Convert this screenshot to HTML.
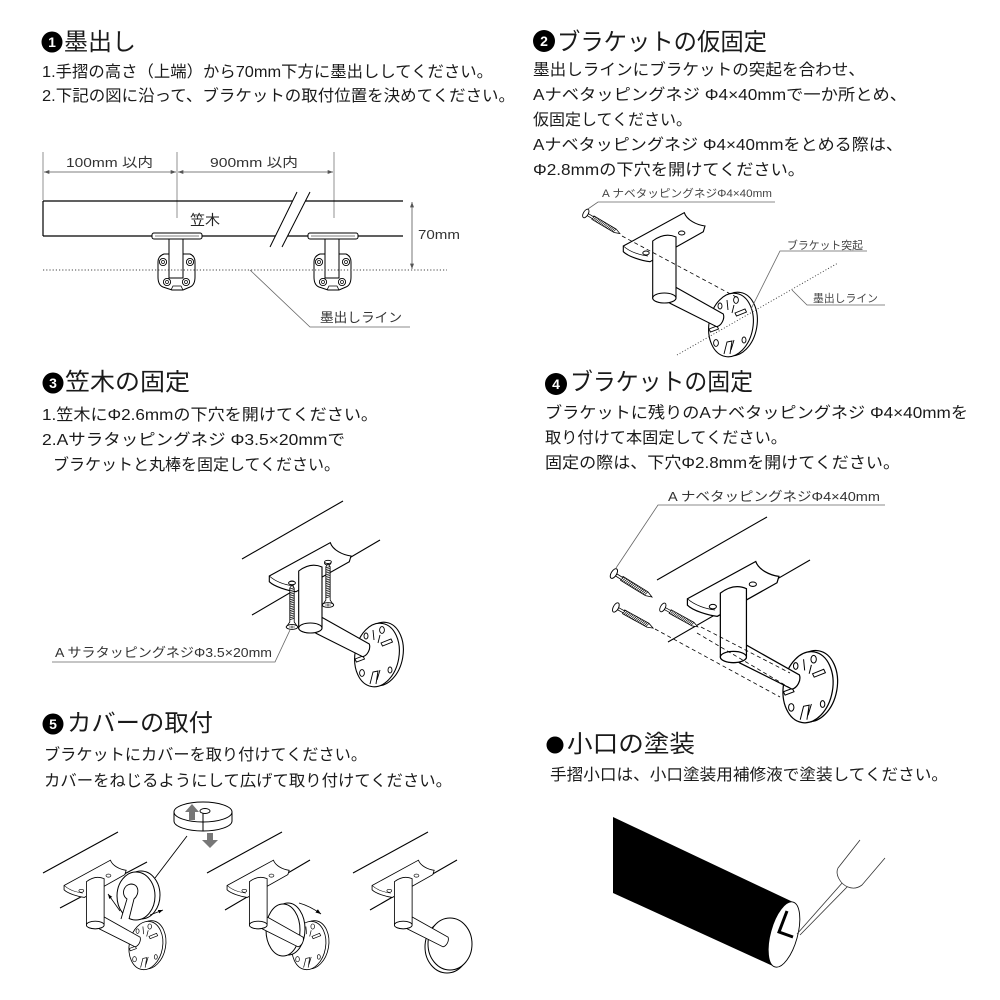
<!DOCTYPE html>
<html><head><meta charset="utf-8"><style>
html,body{margin:0;padding:0;background:#fff;}
svg{display:block;}
text{font-family:"Liberation Sans","Noto Sans CJK JP",sans-serif;fill:#1a1a1a;}
.h{font-size:24px}
.b{font-size:16px}
.s{font-size:13px;fill:#333}
.xs{font-size:11px;fill:#444}
.n{font-size:14px;font-weight:bold;fill:#fff}
</style></head><body>
<svg width="1000" height="1000" viewBox="0 0 1000 1000" xmlns="http://www.w3.org/2000/svg">
<defs>
<marker id="ar" viewBox="0 0 8 6" refX="8" refY="3" markerWidth="7" markerHeight="5" orient="auto-start-reverse"><path d="M0,0 L8,3 L0,6 Z" fill="#555"/></marker>
<marker id="ak" viewBox="0 0 8 6" refX="8" refY="3" markerWidth="6" markerHeight="5" orient="auto"><path d="M0,0 L8,3 L0,6 Z" fill="#000"/></marker>

<g id="fb">
 <path d="M12,254 L38,254 Q43,256 43,262 L43,277 Q43,285 38,287 L31,290 L20,290 L11,287 Q6,285 6,277 L6,262 Q6,256 12,254 Z" fill="#fff" stroke="#000" stroke-width="1"/>
 <circle cx="11" cy="262" r="3.6" fill="#fff" stroke="#000" stroke-width="0.9"/><circle cx="11" cy="262" r="1.5" fill="none" stroke="#000" stroke-width="0.7"/>
 <circle cx="38" cy="262" r="3.6" fill="#fff" stroke="#000" stroke-width="0.9"/><circle cx="38" cy="262" r="1.5" fill="none" stroke="#000" stroke-width="0.7"/>
 <circle cx="15" cy="282" r="3.6" fill="#fff" stroke="#000" stroke-width="0.9"/><circle cx="15" cy="282" r="1.5" fill="none" stroke="#000" stroke-width="0.7"/>
 <circle cx="34" cy="282" r="3.6" fill="#fff" stroke="#000" stroke-width="0.9"/><circle cx="34" cy="282" r="1.5" fill="none" stroke="#000" stroke-width="0.7"/>
 <path d="M19,290 L21,286 L29,286 L31,290" fill="none" stroke="#000" stroke-width="0.8"/>
 <rect x="17" y="238" width="14" height="40" fill="#fff" stroke="#000" stroke-width="1"/>
 <rect x="0" y="233" width="50" height="6" rx="2" fill="#fff" stroke="#000" stroke-width="1"/>
 <line x1="3" y1="236" x2="47" y2="236" stroke="#000" stroke-width="0.5"/>
</g>

<g id="base">
 <ellipse cx="71" cy="26" rx="22" ry="32" transform="rotate(10 71 26)" fill="#fff" stroke="#000" stroke-width="1.1"/>
 <ellipse cx="67" cy="27" rx="22" ry="32" transform="rotate(10 67 27)" fill="#fff" stroke="#000" stroke-width="1.1"/>
 <ellipse cx="72" cy="2" rx="2.4" ry="3.4" fill="none" stroke="#000" stroke-width="0.9"/>
 <ellipse cx="52" cy="45" rx="2.4" ry="3.4" fill="none" stroke="#000" stroke-width="0.9"/>
 <ellipse cx="80" cy="42" rx="2" ry="3" fill="none" stroke="#000" stroke-width="0.9"/>
 <ellipse cx="56" cy="8" rx="2" ry="3" fill="none" stroke="#000" stroke-width="0.9"/>
 <path d="M71,15 l10,-4 l1.5,3 l-10,4 z" fill="#fff" stroke="#000" stroke-width="0.9"/>
 <path d="M45,31 l8,-3 l1.5,3 l-8,3 z" fill="#fff" stroke="#000" stroke-width="0.9"/>
 <path d="M60,56 l3,-12 l5,-1 l-2,13 M67,52 l3,-10" fill="none" stroke="#000" stroke-width="0.9"/>
 <path d="M63,2 l1,10 M70,7 l-2,8" fill="none" stroke="#000" stroke-width="0.9"/>
</g>

<g id="upper">
 <path d="M-40.7,-52 L20.3,-85.3 C22.7,-78 32.7,-73 41,-72 L39.3,-66.3 L-14,-36.3 C-22.3,-37.3 -35.7,-41.3 -40.7,-46.3 Z" fill="#fff" stroke="#000" stroke-width="1.1"/>
 <path d="M-40.7,-52 C-34,-46 -24,-43 -16,-42" fill="none" stroke="#000" stroke-width="0.7"/>
 <ellipse cx="-18" cy="-45" rx="3.2" ry="2" fill="none" stroke="#000" stroke-width="0.9"/>
 <ellipse cx="17.7" cy="-65" rx="3.2" ry="2" fill="none" stroke="#000" stroke-width="0.9"/>
 <path d="M6,-14 L59.3,16 A6 8.5 25 0 1 52.7,28.7 L6,5.3 L0,0 Z" fill="#fff" stroke="#000" stroke-width="1.1"/>
 <path d="M-11.3,-57 L-11.3,0 A11.65,5 0 0 0 12,0 L12,-61 Q0.5,-66 -11.3,-57 Z" fill="#fff" stroke="#000" stroke-width="1.1"/>
 <ellipse cx="0.35" cy="0" rx="11.65" ry="5" fill="#fff" stroke="#000" stroke-width="1.1"/>
</g>

<g id="scr">
 <path d="M2,-1.2 L10,-1.2 L10,-2.2 L38,-2.2 L44,0 L38,2.2 L10,2.2 L10,1.2 L2,1.2 Z" fill="#fff" stroke="#000" stroke-width="0.8"/>
 <path d="M11,-2.2 l-1.2,4.4 M12.8,-2.2 l-1.2,4.4 M14.6,-2.2 l-1.2,4.4 M16.4,-2.2 l-1.2,4.4 M18.2,-2.2 l-1.2,4.4 M20,-2.2 l-1.2,4.4 M21.8,-2.2 l-1.2,4.4 M23.6,-2.2 l-1.2,4.4 M25.4,-2.2 l-1.2,4.4 M27.2,-2.2 l-1.2,4.4 M29,-2.2 l-1.2,4.4 M30.8,-2.2 l-1.2,4.4 M32.6,-2.2 l-1.2,4.4 M34.4,-2.2 l-1.2,4.4 M36.2,-2.2 l-1.2,4.4 M38,-2.2 l-1.2,4.4" stroke="#000" stroke-width="0.7"/>
 <ellipse cx="1" cy="0" rx="2.6" ry="5.2" fill="#fff" stroke="#000" stroke-width="0.9"/>
 <path d="M2.5,-4 A2 4.5 0 0 1 2.5,4" fill="none" stroke="#000" stroke-width="0.6"/>
</g>

<g id="vscr">
 <ellipse cx="0" cy="-44" rx="3.5" ry="1.6" fill="#fff" stroke="#000" stroke-width="0.8"/>
 <path d="M-2.2,-39 L0,-42 L2.2,-39 L2.2,-5 L5,-1 L-5,-1 L-2.2,-5 Z" fill="#fff" stroke="#000" stroke-width="0.8"/>
 <path d="M-2.2,-38 l4.4,-1.2 M-2.2,-36.2 l4.4,-1.2 M-2.2,-34.4 l4.4,-1.2 M-2.2,-32.6 l4.4,-1.2 M-2.2,-30.8 l4.4,-1.2 M-2.2,-29 l4.4,-1.2 M-2.2,-27.2 l4.4,-1.2 M-2.2,-25.4 l4.4,-1.2 M-2.2,-23.6 l4.4,-1.2 M-2.2,-21.8 l4.4,-1.2 M-2.2,-20 l4.4,-1.2 M-2.2,-18.2 l4.4,-1.2 M-2.2,-16.4 l4.4,-1.2 M-2.2,-14.6 l4.4,-1.2 M-2.2,-12.8 l4.4,-1.2 M-2.2,-11 l4.4,-1.2 M-2.2,-9.2 l4.4,-1.2 M-2.2,-7.4 l4.4,-1.2" stroke="#000" stroke-width="0.7"/>
 <ellipse cx="0" cy="0" rx="5.8" ry="2.4" fill="#fff" stroke="#000" stroke-width="0.9"/>
 <path d="M-3,0 L3,0 M0,-1.5 L0,1.5" stroke="#000" stroke-width="0.6"/>
</g>
</defs>

<!-- ================= SECTION 1 ================= -->
<circle cx="52" cy="42" r="10.5" fill="#000"/><text class="n" x="52" y="47" text-anchor="middle">1</text>
<text class="h" x="64" y="50" textLength="72" lengthAdjust="spacingAndGlyphs">墨出し</text>
<text class="b" x="42" y="77" textLength="451" lengthAdjust="spacingAndGlyphs">1.手摺の高さ（上端）から70mm下方に墨出ししてください。</text>
<text class="b" x="42" y="101" textLength="473" lengthAdjust="spacingAndGlyphs">2.下記の図に沿って、ブラケットの取付位置を決めてください。</text>

<g stroke="#777" stroke-width="0.8" fill="none">
 <line x1="43" y1="152" x2="43" y2="200"/>
 <line x1="177" y1="152" x2="177" y2="218"/>
 <line x1="334" y1="152" x2="334" y2="218"/>
</g>
<line x1="44" y1="172" x2="176" y2="172" stroke="#555" stroke-width="0.8" marker-start="url(#ar)" marker-end="url(#ar)"/>
<line x1="178" y1="172" x2="333" y2="172" stroke="#555" stroke-width="0.8" marker-start="url(#ar)" marker-end="url(#ar)"/>
<text class="s" x="66" y="167" textLength="87" lengthAdjust="spacingAndGlyphs">100mm 以内</text>
<text class="s" x="210" y="167" textLength="88" lengthAdjust="spacingAndGlyphs">900mm 以内</text>

<g stroke="#000" stroke-width="1.2" fill="none">
 <line x1="43" y1="201" x2="403" y2="201"/>
 <line x1="43" y1="236" x2="403" y2="236"/>
 <line x1="43" y1="201" x2="43" y2="236"/>
</g>
<polygon points="297,192 310,192 282,247 270,247" fill="#fff"/>
<line x1="297" y1="192" x2="270" y2="247" stroke="#000" stroke-width="1"/>
<line x1="310" y1="192" x2="282" y2="247" stroke="#000" stroke-width="1"/>
<text class="s" x="190" y="225" textLength="30" lengthAdjust="spacingAndGlyphs" style="font-size:14px;fill:#222">笠木</text>

<use href="#fb" x="152"/>
<use href="#fb" x="308"/>

<line x1="43" y1="270" x2="447" y2="270" stroke="#444" stroke-width="1" stroke-dasharray="1.2,2"/>
<line x1="412" y1="202" x2="412" y2="269" stroke="#555" stroke-width="0.8" marker-start="url(#ar)" marker-end="url(#ar)"/>
<text class="s" x="418" y="239" textLength="42" lengthAdjust="spacingAndGlyphs">70mm</text>
<polyline points="250,270 310,327 410,327" fill="none" stroke="#666" stroke-width="0.8"/>
<text class="s" x="320" y="322" textLength="82" lengthAdjust="spacingAndGlyphs">墨出しライン</text>

<!-- ================= SECTION 2 ================= -->
<circle cx="544" cy="41" r="11" fill="#000"/><text class="n" x="544" y="46" text-anchor="middle">2</text>
<text class="h" x="557" y="50" textLength="210" lengthAdjust="spacingAndGlyphs">ブラケットの仮固定</text>
<text class="b" x="533" y="75" textLength="332" lengthAdjust="spacingAndGlyphs">墨出しラインにブラケットの突起を合わせ、</text>
<text class="b" x="533" y="100" textLength="374" lengthAdjust="spacingAndGlyphs">Aナベタッピングネジ Φ4×40mmで一か所とめ、</text>
<text class="b" x="533" y="125" textLength="159" lengthAdjust="spacingAndGlyphs">仮固定してください。</text>
<text class="b" x="533" y="150" textLength="370" lengthAdjust="spacingAndGlyphs">Aナベタッピングネジ Φ4×40mmをとめる際は、</text>
<text class="b" x="533" y="175" textLength="272" lengthAdjust="spacingAndGlyphs">Φ2.8mmの下穴を開けてください。</text>

<text class="xs" x="602" y="197" textLength="170" lengthAdjust="spacingAndGlyphs">A ナベタッピングネジΦ4×40mm</text>
<polyline points="775,202 598,202 585,211" fill="none" stroke="#666" stroke-width="0.8"/>

<g transform="translate(664,298)"><use href="#base"/><use href="#upper"/></g>
<use href="#scr" transform="translate(585,213) rotate(30.5) scale(0.92)"/>
<line x1="622" y1="236" x2="738" y2="298" stroke="#000" stroke-width="0.8" stroke-dasharray="4,3"/>
<line x1="677" y1="355" x2="838" y2="263" stroke="#333" stroke-width="0.9" stroke-dasharray="1,2"/>

<text class="xs" x="787" y="249" textLength="76" lengthAdjust="spacingAndGlyphs">ブラケット突起</text>
<polyline points="867,251 780,251 751,309" fill="none" stroke="#666" stroke-width="0.8"/>
<text class="xs" x="813" y="302" textLength="65" lengthAdjust="spacingAndGlyphs">墨出しライン</text>
<polyline points="885,305 807,305 792,290" fill="none" stroke="#666" stroke-width="0.8"/>

<!-- ================= SECTION 3 ================= -->
<circle cx="53" cy="383" r="10.5" fill="#000"/><text class="n" x="53" y="388" text-anchor="middle">3</text>
<text class="h" x="65" y="390" textLength="125" lengthAdjust="spacingAndGlyphs">笠木の固定</text>
<text class="b" x="42" y="420" textLength="336" lengthAdjust="spacingAndGlyphs">1.笠木にΦ2.6mmの下穴を開けてください。</text>
<text class="b" x="42" y="445" textLength="303" lengthAdjust="spacingAndGlyphs">2.Aサラタッピングネジ Φ3.5×20mmで</text>
<text class="b" x="53" y="470" textLength="287" lengthAdjust="spacingAndGlyphs">ブラケットと丸棒を固定してください。</text>

<line x1="242" y1="559" x2="343" y2="501" stroke="#000" stroke-width="1.1"/>
<line x1="252" y1="615" x2="380" y2="540" stroke="#000" stroke-width="1.1"/>
<g transform="translate(310,628)"><use href="#base"/><use href="#upper"/></g>
<use href="#vscr" transform="translate(292,627)"/>
<use href="#vscr" transform="translate(328,605) scale(0.98)"/>
<text class="s" x="55" y="657" textLength="217" lengthAdjust="spacingAndGlyphs">A サラタッピングネジΦ3.5×20mm</text>
<polyline points="52,662 275,662 290,630" fill="none" stroke="#666" stroke-width="0.8"/>

<!-- ================= SECTION 4 ================= -->
<circle cx="556" cy="384" r="11" fill="#000"/><text class="n" x="556" y="389" text-anchor="middle">4</text>
<text class="h" x="570" y="390" textLength="183" lengthAdjust="spacingAndGlyphs">ブラケットの固定</text>
<text class="b" x="545" y="418" textLength="423" lengthAdjust="spacingAndGlyphs">ブラケットに残りのAナベタッピングネジ Φ4×40mmを</text>
<text class="b" x="545" y="443" textLength="242" lengthAdjust="spacingAndGlyphs">取り付けて本固定してください。</text>
<text class="b" x="545" y="468" textLength="355" lengthAdjust="spacingAndGlyphs">固定の際は、下穴Φ2.8mmを開けてください。</text>

<text class="s" x="668" y="501" textLength="212" lengthAdjust="spacingAndGlyphs">A ナベタッピングネジΦ4×40mm</text>
<polyline points="885,505 658,505 616,568" fill="none" stroke="#666" stroke-width="0.8"/>

<line x1="657" y1="580" x2="767" y2="517" stroke="#000" stroke-width="1.1"/>
<line x1="668" y1="642" x2="810" y2="560" stroke="#000" stroke-width="1.1"/>
<g transform="translate(733,657) scale(1.12)"><use href="#base"/><use href="#upper"/></g>
<use href="#scr" transform="translate(613,573) rotate(31.6) scale(1.04)"/>
<use href="#scr" transform="translate(615,607) rotate(29) scale(0.99)"/>
<use href="#scr" transform="translate(662,607) rotate(29) scale(0.93)"/>
<g stroke="#000" stroke-width="0.8" stroke-dasharray="4,3" fill="none">
 <line x1="655" y1="629" x2="780" y2="697"/>
 <line x1="701" y1="627" x2="790" y2="673"/>
 <line x1="697" y1="633" x2="790" y2="688"/>
</g>

<!-- ================= SECTION 5 ================= -->
<circle cx="53" cy="724" r="10.5" fill="#000"/><text class="n" x="53" y="729" text-anchor="middle">5</text>
<text class="h" x="67" y="731" textLength="146" lengthAdjust="spacingAndGlyphs">カバーの取付</text>
<text class="b" x="44" y="760" textLength="323" lengthAdjust="spacingAndGlyphs">ブラケットにカバーを取り付けてください。</text>
<text class="b" x="44" y="786" textLength="408" lengthAdjust="spacingAndGlyphs">カバーをねじるようにして広げて取り付けてください。</text>

<!-- cover icon -->
<path d="M174,812 L174,821 A29 10 0 0 0 232,821 L232,812" fill="#fff" stroke="#000" stroke-width="1"/>
<ellipse cx="203" cy="812" rx="29" ry="10" fill="#fff" stroke="#000" stroke-width="1"/>
<ellipse cx="205" cy="811" rx="5" ry="2.5" fill="#fff" stroke="#000" stroke-width="0.9"/>
<line x1="203" y1="813" x2="203" y2="831" stroke="#000" stroke-width="1"/>
<path d="M185,812 L192,804 L199,812 L195,812 L195,820 L189,820 L189,812 Z" fill="#777"/>
<path d="M207,833 L213,833 L213,840 L218,840 L210,848 L202,840 L207,840 Z" fill="#777"/>
<line x1="187" y1="836" x2="155" y2="878" stroke="#000" stroke-width="0.9"/>

<!-- rails -->
<g stroke="#000" stroke-width="1.1">
 <line x1="43" y1="873" x2="118" y2="832"/>
 <line x1="60" y1="908" x2="147" y2="862"/>
 <line x1="207" y1="873" x2="282" y2="832"/>
 <line x1="225" y1="910" x2="310" y2="860"/>
 <line x1="353" y1="873" x2="428" y2="832"/>
 <line x1="370" y1="910" x2="457" y2="860"/>
</g>

<!-- bracket 1 -->
<g transform="translate(95,925) scale(0.76)"><use href="#base"/><use href="#upper"/></g>
<ellipse cx="141" cy="895" rx="19" ry="24" fill="#fff" stroke="#000" stroke-width="1"/>
<ellipse cx="136" cy="896" rx="19" ry="24" fill="#fff" stroke="#000" stroke-width="1"/>
<path d="M121,919 L127,899 C121,895 123,885 131,884 C139,884 140,894 134,899 L129,919" fill="#fff" stroke="#000" stroke-width="0.9"/>
<line x1="120" y1="911" x2="108" y2="894" stroke="#000" stroke-width="0.8" marker-end="url(#ak)"/>
<line x1="150" y1="915" x2="163" y2="910" stroke="#000" stroke-width="0.8" marker-end="url(#ak)"/>

<!-- bracket 2 -->
<g transform="translate(258,925) scale(0.76)"><use href="#base"/></g>
<ellipse cx="288" cy="929" rx="17" ry="26" fill="#fff" stroke="#000" stroke-width="1"/>
<ellipse cx="283" cy="930" rx="17" ry="26" fill="#fff" stroke="#000" stroke-width="1"/>
<g transform="translate(258,925) scale(0.76)"><use href="#upper"/></g>
<path d="M299,903 Q310,906 321,914" fill="none" stroke="#000" stroke-width="0.9" marker-end="url(#ak)"/>

<!-- bracket 3 -->
<ellipse cx="447" cy="947" rx="22" ry="26" fill="#fff" stroke="#000" stroke-width="1"/>
<ellipse cx="450" cy="944" rx="22" ry="26" fill="#fff" stroke="#000" stroke-width="1"/>
<g transform="translate(403,925) scale(0.76)"><use href="#upper"/></g>

<!-- ================= 小口の塗装 ================= -->
<circle cx="555" cy="745" r="8.5" fill="#000"/>
<text class="h" x="567" y="752" textLength="128" lengthAdjust="spacingAndGlyphs">小口の塗装</text>
<text class="b" x="550" y="780" textLength="398" lengthAdjust="spacingAndGlyphs">手摺小口は、小口塗装用補修液で塗装してください。</text>

<polygon points="613,817 793,902 784,934 775,967 613,893" fill="#000"/>
<ellipse cx="784" cy="934.5" rx="13.5" ry="33.7" transform="rotate(15.5 784 934.5)" fill="#fff" stroke="#000" stroke-width="0.9"/>
<path d="M787,911 L779,932 L793,937" fill="none" stroke="#000" stroke-width="3" stroke-linejoin="miter"/>
<line x1="797" y1="934" x2="843" y2="882" stroke="#333" stroke-width="0.8"/>
<line x1="800" y1="935" x2="848" y2="886" stroke="#333" stroke-width="0.8"/>
<path d="M860,840 L838,868 C835,874 840,884 848,887 C853,889 858,888 862,885 L885,858" fill="#fff" stroke="#333" stroke-width="0.8"/>
</svg>
</body></html>
